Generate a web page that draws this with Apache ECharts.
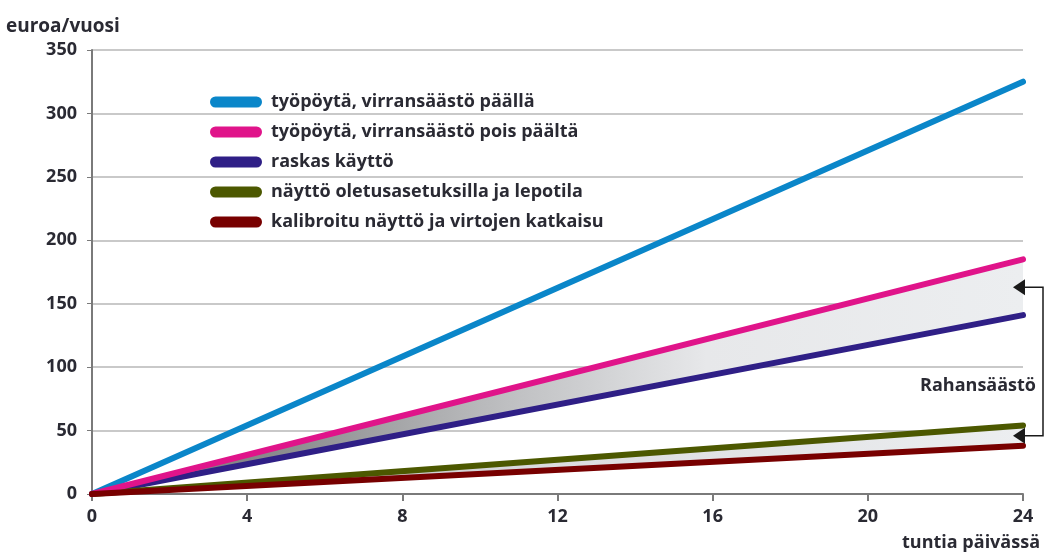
<!DOCTYPE html>
<html><head><meta charset="utf-8">
<script src="https://cdn.jsdelivr.net/npm/echarts@6/dist/echarts.min.js"></script>
<style>html,body{margin:0;padding:0;background:#fff}#c{width:1046px;height:554px}</style>
</head><body><div id="c"></div>
<script>
const hours = [0, 24];
const xTicks = [0, 4, 8, 12, 16, 20, 24];
const yTicks = [0, 50, 100, 150, 200, 250, 300, 350];
const names = ['työpöytä, virransäästö päällä','työpöytä, virransäästö pois päältä','raskas käyttö','näyttö oletusasetuksilla ja lepotila','kalibroitu näyttö ja virtojen katkaisu'];
const desktopSaveOn = [0, 325];
const desktopSaveOff = [0, 185];
const heavyUse = [0, 141];
const displayDefault = [0, 54];
const displayCalibrated = [0, 38];
const colors = ['#0a86c9','#e0148a','#2f1f86','#4c5800','#780000'];
const annotationText = 'Rahansäästö';

const font = 'Open Sans';
const txt = '#2a2a33';
const fw = 'bold';
const pts = arr => hours.map((h,i)=>[h, arr[i]]);

const chart = echarts.init(document.getElementById('c'));
const lineSeries = (name, arr, color, z) => ({
  name, type:'line', data: pts(arr), symbol:'none', z,
  lineStyle:{color, width:6, cap:'round'}, itemStyle:{color}
});
const band = (upper, lower, stops) => ({
  type:'custom', silent:true, z:1,
  data: hours.map((h,i)=>[h, upper[i], lower[i]]),
  renderItem:(params, api) => {
    if (params.dataIndex !== 0) return null;
    const top = hours.map((h,i)=>api.coord([h, upper[i]]));
    const bot = hours.map((h,i)=>api.coord([h, lower[i]])).reverse();
    return {type:'polygon', shape:{points:top.concat(bot)},
      style:{fill:new echarts.graphic.LinearGradient(0,0,1,0,stops)}};
  },
  encode:{x:0, y:[1,2]}
});
const option = {
  animation:false,
  textStyle:{fontFamily:font},
  grid:{left:92, right:23, top:50, bottom:60},
  legend:{
    orient:'vertical', left:205, top:88, itemWidth:52, itemHeight:11, itemGap:12,
    icon:'path://M5.5,0 H46.5 A5.5,5.5 0 0 1 46.5,11 H5.5 A5.5,5.5 0 0 1 5.5,0 Z',
    data: names,
    textStyle:{fontFamily:font, fontSize:18, fontWeight:fw, color:txt, padding:[0,0,0,4]}
  },
  xAxis:{
    type:'value', min:0, max:24, interval:4,
    name:'tuntia päivässä', nameLocation:'end', nameGap:0,
    nameTextStyle:{fontFamily:font, fontSize:18, fontWeight:fw, color:txt, align:'right', verticalAlign:'top', padding:[40,-17,0,0]},
    axisLine:{show:true, lineStyle:{color:'#7a7a7a', width:2}},
    axisTick:{show:true, length:7, lineStyle:{color:'#7a7a7a', width:2}},
    axisLabel:{fontFamily:font, fontSize:18, fontWeight:fw, color:txt, margin:14},
    splitLine:{show:false}
  },
  yAxis:{
    type:'value', min:0, max:350, interval:50,
    name:'euroa/vuosi', nameLocation:'end', nameGap:14,
    nameTextStyle:{fontFamily:font, fontSize:19, fontWeight:fw, color:txt, align:'left', padding:[0,0,0,-86]},
    axisLine:{show:true, lineStyle:{color:'#7a7a7a', width:2}},
    axisTick:{show:true, length:5, lineStyle:{color:'#7a7a7a', width:1}},
    axisLabel:{fontFamily:font, fontSize:18, fontWeight:fw, color:txt, margin:15},
    splitLine:{show:true, lineStyle:{color:'#c9c9c9', width:2}}
  },
  series:[
    band(desktopSaveOff, heavyUse, [{offset:0,color:'#6e6e70'},{offset:0.22,color:'#8e8f91'},{offset:0.45,color:'#bfc0c2'},{offset:0.66,color:'#e7e8ea'},{offset:1,color:'#eceef0'}]),
    band(displayDefault, displayCalibrated, [{offset:0,color:'#b0b0b2'},{offset:0.5,color:'#dcdde0'},{offset:1,color:'#eceef0'}]),
    lineSeries(names[0], desktopSaveOn, colors[0], 5),
    lineSeries(names[1], desktopSaveOff, colors[1], 5),
    lineSeries(names[2], heavyUse, colors[2], 4),
    lineSeries(names[3], displayDefault, colors[3], 4),
    lineSeries(names[4], displayCalibrated, colors[4], 5)
  ]
};
chart.setOption(option);

const last = hours.length - 1;
const xEnd = hours[last];
const a1 = chart.convertToPixel({gridIndex:0}, [xEnd, (desktopSaveOff[last]+heavyUse[last])/2]);
const a2 = chart.convertToPixel({gridIndex:0}, [xEnd, (displayDefault[last]+displayCalibrated[last])/2]);
const bx = a1[0] + 20;
const tip = a1[0] - 10;
const arrow = (y) => ({type:'polygon', shape:{points:[[tip,y],[tip+12,y-8],[tip+12,y+8]]}, style:{fill:'#1a1a1a'}, z:10});
chart.setOption({graphic:[
  {type:'polyline', shape:{points:[[tip+10,a1[1]],[bx,a1[1]],[bx,a2[1]],[tip+10,a2[1]]]}, style:{stroke:'#1a1a1a', lineWidth:1.5, fill:null}, z:10},
  arrow(a1[1]), arrow(a2[1]),
  {type:'text', x:bx-7, y:(a1[1]+a2[1])/2+24, style:{text:annotationText, fontFamily:font, fontSize:18, fontWeight:fw, fill:txt, align:'right', verticalAlign:'middle'}, z:10}
]});
</script></body></html>
